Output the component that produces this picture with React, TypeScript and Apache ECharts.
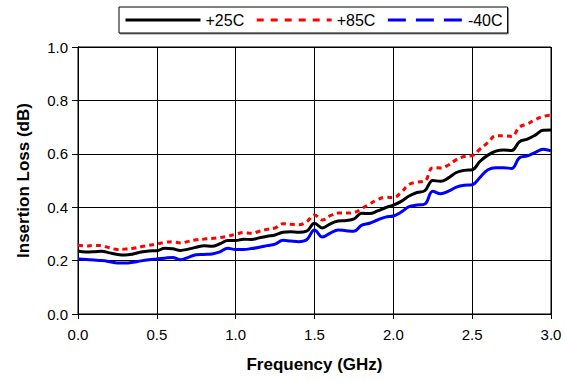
import React, { useEffect, useRef } from "react";
import * as echarts from "echarts";

const freqs = [
  0.0, 0.05, 0.1, 0.15, 0.2, 0.25, 0.3, 0.35, 0.4, 0.45, 0.5, 0.55, 0.6, 0.65, 0.7, 0.75, 0.8, 0.85, 0.9, 0.95,
  1.0, 1.05, 1.1, 1.15, 1.2, 1.25, 1.3, 1.35, 1.4, 1.45, 1.5, 1.55, 1.6, 1.65, 1.7, 1.75, 1.8, 1.85, 1.9, 1.95,
  2.0, 2.05, 2.1, 2.15, 2.2, 2.25, 2.3, 2.35, 2.4, 2.45, 2.5, 2.55, 2.6, 2.65, 2.7, 2.75, 2.8, 2.85, 2.9, 2.95, 3.0,
];

const loss25 = [
  0.236, 0.232, 0.233, 0.235, 0.229, 0.223, 0.221, 0.225, 0.232, 0.236, 0.237, 0.246, 0.244, 0.238, 0.243, 0.25,
  0.256, 0.254, 0.263, 0.275, 0.275, 0.28, 0.279, 0.285, 0.291, 0.296, 0.306, 0.308, 0.306, 0.31, 0.34, 0.322,
  0.338, 0.348, 0.35, 0.356, 0.377, 0.376, 0.386, 0.398, 0.408, 0.422, 0.442, 0.455, 0.462, 0.5, 0.497, 0.51,
  0.53, 0.538, 0.54, 0.572, 0.595, 0.61, 0.614, 0.612, 0.645, 0.655, 0.67, 0.688, 0.689,
];

const loss85 = [
  0.258, 0.255, 0.257, 0.256, 0.248, 0.242, 0.243, 0.246, 0.252, 0.257, 0.262, 0.268, 0.271, 0.266, 0.272, 0.278,
  0.281, 0.283, 0.286, 0.292, 0.298, 0.305, 0.302, 0.31, 0.317, 0.322, 0.338, 0.336, 0.334, 0.345, 0.371, 0.352,
  0.368, 0.378, 0.378, 0.38, 0.395, 0.412, 0.428, 0.437, 0.436, 0.456, 0.485, 0.494, 0.498, 0.548, 0.547, 0.558,
  0.578, 0.59, 0.593, 0.618, 0.642, 0.668, 0.668, 0.665, 0.7, 0.712, 0.728, 0.74, 0.745,
];

const lossM40 = [
  0.206, 0.204, 0.202, 0.2, 0.196, 0.191, 0.191, 0.194, 0.199, 0.203, 0.206, 0.209, 0.212, 0.203, 0.212, 0.222,
  0.223, 0.225, 0.233, 0.246, 0.242, 0.242, 0.245, 0.25, 0.256, 0.262, 0.276, 0.273, 0.271, 0.278, 0.315, 0.288,
  0.303, 0.315, 0.312, 0.31, 0.333, 0.34, 0.352, 0.363, 0.367, 0.382, 0.402, 0.408, 0.412, 0.46, 0.45, 0.46,
  0.475, 0.482, 0.484, 0.512, 0.54, 0.548, 0.548, 0.545, 0.585, 0.592, 0.605, 0.617, 0.611,
];

const seriesNames = ["+25C", "+85C", "-40C"];

const FONT = "Liberation Sans, Arial, sans-serif";

export default function App() {
  const ref = useRef<HTMLDivElement>(null);

  useEffect(() => {
    if (!ref.current) return;
    const chart = echarts.init(ref.current, undefined, { renderer: "svg" });
    const pairs = (vals: number[]) => freqs.map((f, i) => [f, vals[i]]);
    const hidden = { opacity: 0, borderWidth: 0 };
    chart.setOption({
      animation: false,
      backgroundColor: "#ffffff",
      textStyle: { fontFamily: FONT },
      grid: {
        left: 78,
        right: 15,
        top: 47,
        bottom: 67,
        show: true,
        borderColor: "#000",
        borderWidth: 1,
      },
      legend: {
        left: 119,
        top: 7,
        padding: [5, 5, 5, 5],
        itemWidth: 75,
        itemHeight: 14,
        itemGap: 11,
        borderColor: "#000",
        borderWidth: 1,
        backgroundColor: "#fff",
        shadowColor: "rgba(0,0,0,0.45)",
        shadowOffsetX: 1,
        shadowOffsetY: 1,
        shadowBlur: 0,
        textStyle: { fontFamily: FONT, fontSize: 16, color: "#000" },
        data: [
          { name: seriesNames[0], itemStyle: hidden, lineStyle: { color: "#000", width: 3, type: "solid" } },
          { name: seriesNames[1], itemStyle: hidden, lineStyle: { color: "#ff0000", width: 3, type: [7, 7] } },
          { name: seriesNames[2], itemStyle: hidden, lineStyle: { color: "#0000ff", width: 3, type: [18, 10] } },
        ],
      },
      xAxis: {
        type: "value",
        min: 0,
        max: 3,
        interval: 0.5,
        name: "Frequency (GHz)",
        nameLocation: "middle",
        nameGap: 42,
        nameTextStyle: { fontFamily: FONT, fontSize: 17, fontWeight: "bold", color: "#000" },
        axisLine: { show: true, lineStyle: { color: "#000", width: 1 } },
        axisTick: { show: true, inside: false, length: 5, lineStyle: { color: "#000" } },
        axisLabel: {
          fontFamily: FONT,
          fontSize: 15,
          color: "#000",
          margin: 13,
          formatter: (v: number) => v.toFixed(1),
        },
        splitLine: { show: true, lineStyle: { color: "#000", width: 1 } },
      },
      yAxis: {
        type: "value",
        min: 0,
        max: 1,
        interval: 0.2,
        name: "Insertion Loss (dB)",
        nameLocation: "middle",
        nameGap: 46,
        nameTextStyle: { fontFamily: FONT, fontSize: 17, fontWeight: "bold", color: "#000" },
        axisLine: { show: true, lineStyle: { color: "#000", width: 1 } },
        axisTick: { show: true, inside: false, length: 6, lineStyle: { color: "#000" } },
        axisLabel: {
          fontFamily: FONT,
          fontSize: 15,
          color: "#000",
          margin: 10,
          formatter: (v: number) => v.toFixed(1),
        },
        splitLine: { show: true, lineStyle: { color: "#000", width: 1 } },
      },
      series: [
        {
          name: seriesNames[0],
          type: "line",
          data: pairs(loss25),
          symbol: "none",
          showSymbol: false,
          smooth: 0.4,
          lineStyle: { color: "#000", width: 3 },
          itemStyle: { color: "#000" },
          z: 3,
        },
        {
          name: seriesNames[1],
          type: "line",
          data: pairs(loss85),
          symbol: "none",
          showSymbol: false,
          smooth: 0.4,
          lineStyle: { color: "#ff0000", width: 3, type: [5, 4] },
          itemStyle: { color: "#ff0000" },
          z: 2,
        },
        {
          name: seriesNames[2],
          type: "line",
          data: pairs(lossM40),
          symbol: "none",
          showSymbol: false,
          smooth: 0.4,
          lineStyle: { color: "#0000ff", width: 3, type: "solid" },
          itemStyle: { color: "#0000ff" },
          z: 2,
        },
      ],
    });
    return () => chart.dispose();
  }, []);

  return (
    <div
      ref={ref}
      style={{ position: "fixed", left: 0, top: 0, width: 566, height: 381, background: "#fff" }}
    />
  );
}
